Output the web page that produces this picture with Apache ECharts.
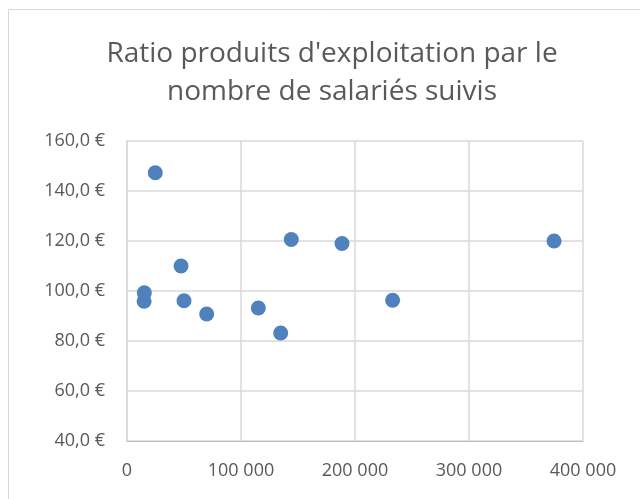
<!DOCTYPE html>
<html>
<head>
<meta charset="utf-8">
<script src="https://cdn.jsdelivr.net/npm/echarts@6/dist/echarts.min.js"></script>
<style>
  html, body { margin: 0; padding: 0; background: #fff; }
  #chart01 { width: 640px; height: 499px; }
</style>
</head>
<body>
<div id="chart01"></div>
<script>
// nombre de salariés suivis (x) et ratio en € (y)
var salaries = [15200, 15000, 24800, 47400, 50000, 69900, 115200, 134800, 144100, 188600, 233000, 374600];
var ratios = [99.3, 95.9, 147.3, 110.0, 96.1, 90.8, 93.2, 83.2, 120.6, 119.0, 96.3, 120.0];

var points = salaries.map(function (s, i) { return [s, ratios[i]]; });

var chartDom = document.getElementById('chart01');
var myChart = echarts.init(chartDom);
var option;

var grey = '#595959';

option = {
    animation: false,
    graphic: [
      {
        type: 'rect',
        shape: { x: 8.5, y: 9.5, width: 700, height: 600 },
        style: { fill: 'none', stroke: '#d9d9d9', lineWidth: 1 }
      }
    ],
    title: {
      text: "Ratio produits d'exploitation par le\nnombre de salariés suivis",
      left: 327,
      top: 30,
      textAlign: 'center',
      textStyle: {
        fontFamily: 'Open Sans',
        fontWeight: 'normal',
        fontSize: 28,
        lineHeight: 38,
        color: grey
      }
    },
    grid: {
      left: 127,
      right: 57,
      top: 141,
      bottom: 58
    },
    xAxis: {
      type: 'value',
      min: 0,
      max: 400000,
      interval: 100000,
      axisLine: { show: true, lineStyle: { color: '#bfbfbf', width: 1 } },
      axisTick: { show: false },
      splitLine: { show: true, lineStyle: { color: '#d9d9d9', width: 1.5 } },
      axisLabel: {
        margin: 21,
        fontFamily: 'Open Sans',
        fontSize: 18,
        color: grey,
        formatter: function (v) {
          return String(v).replace(/\B(?=(\d{3})+(?!\d))/g, ' ');
        }
      }
    },
    yAxis: {
      type: 'value',
      min: 40,
      max: 160,
      interval: 20,
      axisLine: { show: true, lineStyle: { color: '#d9d9d9', width: 1.5 } },
      axisTick: { show: false },
      splitLine: { show: true, lineStyle: { color: '#d9d9d9', width: 1.5 } },
      axisLabel: {
        margin: 22,
        fontFamily: 'Open Sans',
        fontSize: 18,
        color: grey,
        formatter: function (v) {
          return v.toFixed(1).replace('.', ',') + ' €';
        }
      }
    },
    series: [
      {
        type: 'scatter',
        symbol: 'circle',
        symbolSize: 15,
        itemStyle: { color: '#4f81bd', opacity: 1 },
        data: points
      }
    ]
  };

option && myChart.setOption(option);
</script>
</body>
</html>
